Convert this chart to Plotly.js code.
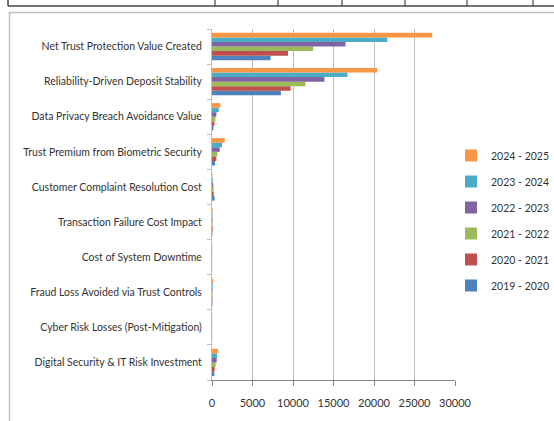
<!DOCTYPE html>
<html>
<head>
<meta charset="utf-8">
<script src="https://cdn.plot.ly/plotly-3.0.1.min.js"></script>
<style>html,body{margin:0;padding:0;background:#fff;}#chart{width:554px;height:421px;}</style>
</head>
<body>
<div id="chart"></div>
<script>
// Categories (bottom to top, as drawn)
const categories = [
  "Digital Security & IT Risk Investment",
  "Cyber Risk Losses (Post-Mitigation)",
  "Fraud Loss Avoided via Trust Controls",
  "Cost of System Downtime",
  "Transaction Failure Cost Impact",
  "Customer Complaint Resolution Cost",
  "Trust Premium from Biometric Security",
  "Data Privacy Breach Avoidance Value",
  "Reliability-Driven Deposit Stability",
  "Net Trust Protection Value Created"
];
const seriesNames = ["2019 - 2020","2020 - 2021","2021 - 2022","2022 - 2023","2023 - 2024","2024 - 2025"];
const v2019_2020 = [290, 15, 50, 15, 60, 320, 370, 170, 8510, 7230];
const v2020_2021 = [330, 18, 60, 18, 90, 220, 540, 300, 9710, 9380];
const v2021_2022 = [460, 20, 60, 20, 60, 200, 670, 420, 11530, 12480];
const v2022_2023 = [580, 22, 70, 22, 70, 150, 950, 540, 13880, 16480];
const v2023_2024 = [620, 25, 80, 25, 60, 90, 1240, 830, 16730, 21650];
const v2024_2025 = [750, 28, 150, 28, 80, 60, 1570, 1040, 20370, 27190];
const seriesValues = [v2019_2020, v2020_2021, v2021_2022, v2022_2023, v2023_2024, v2024_2025];
const xTicks = [0, 5000, 10000, 15000, 20000, 25000, 30000];

const colors = ["#4F81BD","#C0504D","#9BBB59","#8064A2","#4BACC6","#F79646"];
const font = "Lato, 'Liberation Sans', sans-serif";

const traces = seriesNames.map((name, i) => ({
  type: "bar",
  orientation: "h",
  name: name,
  legendgroup: "g" + i,
  legendrank: 1000 - i,
  y: categories,
  x: seriesValues[i],
  marker: {color: colors[i], line: {width: 0}},
  hoverinfo: "x+name"
}));

function px(x){ return (x - 212) / 243; }
function py(y){ return (380 - y) / 351; }
const tableXs = [215, 278, 342, 405, 467, 533];
const shapes = [
  {type:"line", xref:"paper", yref:"paper", x0:px(8), x1:px(560), y0:py(6), y1:py(6), line:{color:"#444", width:1.5}},
  {type:"line", xref:"paper", yref:"paper", x0:px(8), x1:px(8), y0:py(-2), y1:py(6), line:{color:"#444", width:1.5}},
  {type:"line", xref:"paper", yref:"paper", x0:px(9), x1:px(560), y0:py(12.5), y1:py(12.5), line:{color:"#BFBFBF", width:1.5}},
  {type:"line", xref:"paper", yref:"paper", x0:px(9.5), x1:px(9.5), y0:py(12), y1:py(430), line:{color:"#BFBFBF", width:1.5}}
];
tableXs.forEach(x => shapes.push({type:"line", xref:"paper", yref:"paper", x0:px(x), x1:px(x), y0:py(-2), y1:py(6), line:{color:"#444", width:1.2}}));

const layout = {
  width: 554, height: 421,
  margin: {l: 212, r: 99, t: 29, b: 41, autoexpand: false},
  paper_bgcolor: "#fff", plot_bgcolor: "#fff",
  barmode: "group", bargap: 0.22, bargroupgap: 0,
  font: {family: font, size: 11, color: "#333"},
  showlegend: true,
  legend: {
    traceorder: "grouped",
    xref: "container", yref: "container",
    x: 451 / 554, y: (421 - 141) / 421, xanchor: "left", yanchor: "top",
    font: {family: font, size: 10.5, color: "#333"},
    itemwidth: 30, tracegroupgap: 7, bgcolor: "rgba(0,0,0,0)"
  },
  xaxis: {
    range: [0, 30000], tickvals: xTicks, ticktext: xTicks.map(String), tickangle: 0,
    showgrid: true, gridcolor: "#BEBEBE", gridwidth: 1,
    showline: true, linecolor: "#868686", linewidth: 1,
    ticks: "outside", ticklen: 5, tickcolor: "#868686", automargin: false,
    ticklabelstandoff: 8,
    zeroline: false, tickfont: {family: font, size: 11, color: "#333"}, fixedrange: true
  },
  yaxis: {
    type: "category", categoryorder: "array", categoryarray: categories,
    showline: true, linecolor: "#BEBEBE", linewidth: 1, automargin: false,
    ticks: "outside", tickson: "boundaries", ticklen: 4, tickcolor: "#BEBEBE",
    showgrid: false, ticklabelstandoff: 7,
    tickfont: {family: font, size: 10.5, color: "#333"}, fixedrange: true
  },
  shapes: shapes
};

Plotly.newPlot("chart", traces, layout, {displayModeBar: false, staticPlot: true});
</script>
</body>
</html>
